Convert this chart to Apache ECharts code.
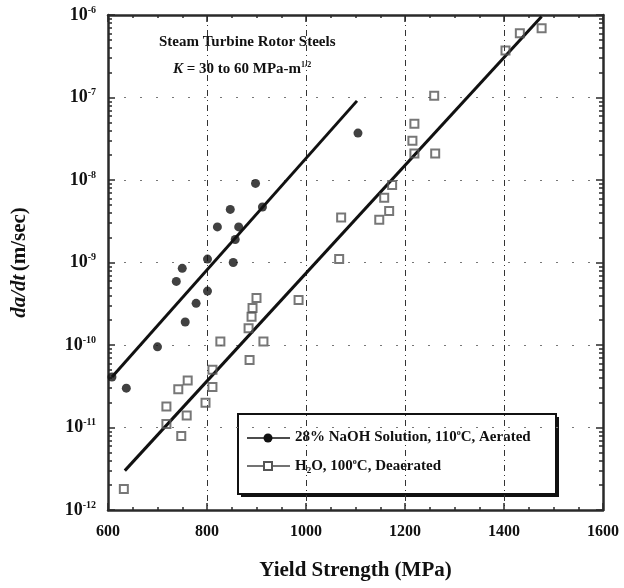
<!DOCTYPE html>
<html>
<head>
<meta charset="utf-8">
<script src="https://cdn.jsdelivr.net/npm/echarts@6/dist/echarts.min.js"></script>
<style>
  html, body { margin: 0; padding: 0; background: #fff; }
  #chart { width: 624px; height: 588px; }
</style>
</head>
<body>
<div id="chart"></div>
<script>
"use strict";

/* ---------- data ---------- */
// 28% NaOH, 110°C, aerated — filled circles
const naohX = [608, 637, 700, 738, 750, 756, 778, 801, 801, 821, 847, 853, 857, 864, 898, 912, 1105];
const naohY = [4.1e-11, 3.0e-11, 9.5e-11, 5.9e-10, 8.5e-10, 1.9e-10, 3.2e-10, 4.5e-10, 1.1e-9,
               2.7e-9, 4.4e-9, 1.0e-9, 1.9e-9, 2.7e-9, 9.1e-9, 4.7e-9, 3.7e-8];
const naohFitX = [608, 1103];
const naohFitY = [4.1e-11, 9.1e-8];

// H2O, 100°C, deaerated — open squares
const h2oX = [632, 748, 718, 759, 718, 742, 761, 797, 811, 811, 827, 886, 914, 884, 890, 892, 900, 985,
              1067, 1071, 1148, 1168, 1158, 1174, 1219, 1215, 1219, 1261, 1259, 1403, 1432, 1476];
const h2oY = [1.8e-12, 7.9e-12, 1.1e-11, 1.4e-11, 1.8e-11, 2.9e-11, 3.7e-11, 2.0e-11, 3.1e-11, 5.0e-11,
              1.1e-10, 6.6e-11, 1.1e-10, 1.6e-10, 2.2e-10, 2.8e-10, 3.7e-10, 3.5e-10,
              1.1e-9, 3.5e-9, 3.3e-9, 4.2e-9, 6.1e-9, 8.7e-9, 2.1e-8, 3.0e-8, 4.8e-8, 2.1e-8, 1.05e-7,
              3.7e-7, 6.0e-7, 6.9e-7];
const h2oFitX = [634, 1476];
const h2oFitY = [3.0e-12, 9.6e-7];

// log-decade minor tick positions (2..9 × 10^k)
const yMinorTicks = [];
for (let k = -12; k < -6; k++) {
  for (let m = 2; m <= 9; m++) yMinorTicks.push(Number((m + "e" + k)));
}

const zip = (xs, ys) => xs.map((x, i) => [x, ys[i]]);

/* ---------- styles ---------- */
const SERIF = "'Liberation Serif', 'DejaVu Serif', serif";
const INK = "#111";
const AXIS = "#2a2a2a";

const chart = echarts.init(document.getElementById("chart"), null, { renderer: "canvas" });

const frameAxis = {
  axisLine: { show: true, onZero: false, lineStyle: { color: AXIS, width: 2.5 } },
  axisTick: { show: true, inside: true, length: 7, lineStyle: { color: AXIS, width: 1.5 } }
};

// extra log axis that only carries the minor ticks
const minorLogAxis = pos => ({
  type: "log", logBase: 10, min: 1e-12, max: 1e-6, position: pos,
  axisLine: { show: false },
  axisTick: { show: true, inside: true, length: 4, customValues: yMinorTicks, lineStyle: { color: AXIS, width: 1.5 } },
  axisLabel: { show: false }, splitLine: { show: false }
});

const option = {
  backgroundColor: "#fff",
  animation: false,
  grid: { left: 108, right: 21, top: 15, bottom: 78 },
  xAxis: [
    {
      type: "value", min: 600, max: 1600, interval: 200,
      ...frameAxis,
      minorTick: { show: true, splitNumber: 4, length: 3, lineStyle: { color: AXIS, width: 1.5 } },
      axisLabel: { margin: 14, color: INK, fontFamily: SERIF, fontWeight: "bold", fontSize: 16, formatter: v => String(v) },
      splitLine: { show: true, lineStyle: { color: "#333", width: 1, type: [6, 4, 1, 4] } },
      name: "Yield Strength (MPa)", nameLocation: "middle", nameGap: 50,
      nameTextStyle: { color: INK, fontFamily: SERIF, fontWeight: "bold", fontSize: 21 }
    },
    {
      type: "value", position: "top", min: 600, max: 1600, interval: 200,
      ...frameAxis,
      minorTick: { show: true, splitNumber: 4, length: 3, lineStyle: { color: AXIS, width: 1.5 } },
      axisLabel: { show: false }, splitLine: { show: false }
    }
  ],
  yAxis: [
    {
      type: "log", logBase: 10, min: 1e-12, max: 1e-6,
      ...frameAxis,
      splitLine: { show: true, lineStyle: { color: "#777", width: 1, type: [2, 14] } },
      axisLabel: {
        margin: 12, color: INK,
        formatter: v => "{b|10}{s|" + Math.round(Math.log10(v)) + "}",
        rich: {
          b: { fontFamily: SERIF, fontWeight: "bold", fontSize: 18, color: INK },
          s: { fontFamily: SERIF, fontWeight: "bold", fontSize: 10, color: INK, padding: [0, 0, 10, 0] }
        }
      },
      name: "{i|da/dt} {n|(m/sec)}", nameLocation: "middle", nameGap: 78, nameRotate: 90,
      nameTextStyle: {
        rich: {
          i: { fontFamily: SERIF, fontWeight: "bold", fontStyle: "italic", fontSize: 21, color: INK },
          n: { fontFamily: SERIF, fontWeight: "bold", fontSize: 21, color: INK }
        }
      }
    },
    {
      type: "log", logBase: 10, min: 1e-12, max: 1e-6, position: "right",
      ...frameAxis,
      axisLabel: { show: false }, splitLine: { show: false }
    },
    minorLogAxis("left"),
    minorLogAxis("right")
  ],
  series: [
    {
      name: "naohFit", type: "line", data: zip(naohFitX, naohFitY),
      symbol: "none", lineStyle: { color: INK, width: 3 }, z: 3
    },
    {
      name: "h2oFit", type: "line", data: zip(h2oFitX, h2oFitY),
      symbol: "none", lineStyle: { color: INK, width: 3 }, z: 3
    },
    {
      name: "28% NaOH", type: "scatter", data: zip(naohX, naohY),
      symbol: "circle", symbolSize: 9, itemStyle: { color: INK }, z: 4
    },
    {
      name: "H2O", type: "scatter", data: zip(h2oX, h2oY),
      symbol: "rect", symbolSize: 8,
      itemStyle: { color: "rgba(255,255,255,0)", borderColor: "#555", borderWidth: 2 }, z: 4
    }
  ],
  graphic: [
    {
      type: "text", left: 159, top: 35,
      style: { text: "Steam Turbine Rotor Steels", font: "bold 15px " + SERIF, fill: INK }
    },
    {
      type: "text", left: 173, top: 61,
      style: {
        text: "{i|K} = 30 to 60 MPa-m{s|1/2}",
        font: "bold 15px " + SERIF, fill: INK,
        rich: {
          i: { font: "italic bold 15px " + SERIF, fill: INK },
          s: { font: "bold 8px " + SERIF, fill: INK, padding: [0, 0, 9, 0] }
        }
      }
    },
    /* legend box */
    {
      type: "group", left: 237, top: 413,
      children: [
        { type: "rect", shape: { x: 3, y: 3, width: 318, height: 80 }, style: { fill: INK } },
        { type: "rect", shape: { x: 0, y: 0, width: 318, height: 80 }, style: { fill: "#fff", stroke: INK, lineWidth: 2 } },
        { type: "line", shape: { x1: 9, y1: 24, x2: 52, y2: 24 }, style: { stroke: INK, lineWidth: 1.5 } },
        { type: "circle", shape: { cx: 30, cy: 24, r: 4.5 }, style: { fill: INK } },
        {
          type: "text", x: 57, y: 15,
          style: {
            text: "28% NaOH Solution, 110{s|o}C, Aerated",
            font: "bold 15px " + SERIF, fill: INK,
            rich: { s: { font: "bold 8px " + SERIF, fill: INK, padding: [0, 0, 9, 0] } }
          }
        },
        { type: "line", shape: { x1: 9, y1: 52, x2: 52, y2: 52 }, style: { stroke: "#444", lineWidth: 1.5 } },
        { type: "rect", shape: { x: 26, y: 48, width: 8, height: 8 }, style: { fill: "#fff", stroke: "#555", lineWidth: 2 } },
        {
          type: "text", x: 57, y: 43,
          style: {
            text: "H{u|2}O, 100{s|o}C, Deaerated",
            font: "bold 15px " + SERIF, fill: INK,
            rich: {
              s: { font: "bold 8px " + SERIF, fill: INK, padding: [0, 0, 9, 0] },
              u: { font: "bold 9px " + SERIF, fill: INK, padding: [9, 0, 0, 0] }
            }
          }
        }
      ]
    }
  ]
};

chart.setOption(option);
</script>
</body>
</html>
